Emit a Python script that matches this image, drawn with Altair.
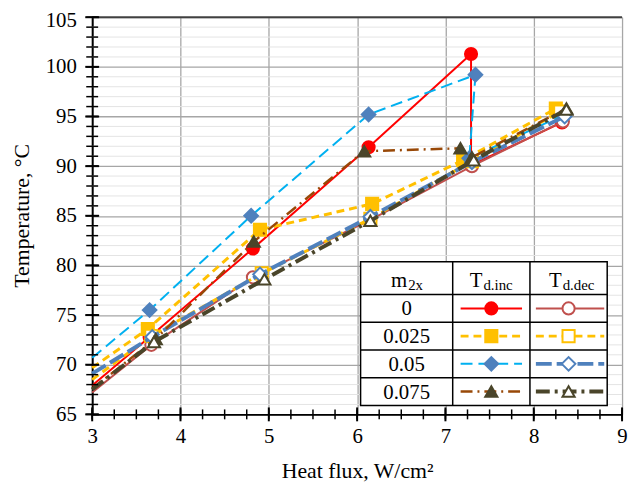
import altair as alt
import pandas as pd

FONT = "Liberation Serif"
X_MIN, X_MAX = 3, 9
Y_MIN, Y_MAX = 65, 105
W, H = 535, 401

# ---- data ----
x_0_inc = [3.0, 3.65, 4.82, 6.13, 7.29, 7.29, 8.32]
y_0_inc = [67.9, 72.8, 81.7, 91.9, 101.3, 90.1, 94.4]
x_0_dec = [3.0, 3.67, 4.82, 6.15, 7.30, 8.33]
y_0_dec = [67.2, 72.0, 78.8, 84.6, 90.0, 94.5]
x_025_inc = [3.0, 3.63, 4.90, 6.17, 7.20, 8.25]
y_025_inc = [69.7, 73.6, 83.6, 86.2, 90.6, 95.8]
x_025_dec = [3.0, 3.67, 4.92, 6.15, 7.30, 8.30]
y_025_dec = [68.5, 72.9, 79.2, 84.7, 90.5, 95.5]
x_05_inc = [3.0, 3.65, 4.80, 6.13, 7.34, 7.27, 8.35]
y_05_inc = [70.7, 75.5, 85.0, 95.2, 99.2, 90.8, 95.2]
x_05_dec = [3.0, 3.68, 4.90, 6.15, 7.30, 8.35]
y_05_dec = [69.1, 72.8, 79.1, 84.9, 90.4, 95.0]
x_075_inc = [3.0, 3.72, 4.83, 6.08, 7.17, 7.30, 8.37]
y_075_inc = [67.6, 72.6, 82.4, 91.5, 91.8, 90.9, 95.8]
x_075_dec = [3.0, 3.70, 4.95, 6.15, 7.32, 8.37]
y_075_dec = [67.5, 72.3, 78.6, 84.5, 90.6, 95.7]

m2x_labels = ["0", "0.025", "0.05", "0.075"]
x_ticks = list(range(3, 10))
y_ticks = list(range(65, 106, 5))

# ---- styles ----
series = [
    # (x, y, row, col, line color, width, dash, shape, fill, stroke)
    (x_0_inc, y_0_inc, 0, "inc", "#FF0000", 2, None, "circle", "#FF0000", "#FF0000"),
    (x_0_dec, y_0_dec, 0, "dec", "#C0504D", 2, None, "circle", "white", "#C0504D"),
    (x_025_inc, y_025_inc, 1, "inc", "#FFC000", 3, [8, 5], "square", "#FFC000", "#FFC000"),
    (x_025_dec, y_025_dec, 1, "dec", "#FFC000", 3, [8, 5], "square", "white", "#FFC000"),
    (x_05_inc, y_05_inc, 2, "inc", "#00B0F0", 2, [12, 6], "diamond", "#4F81BD", "#4F81BD"),
    (x_05_dec, y_05_dec, 2, "dec", "#4F81BD", 4, [16, 5], "diamond", "white", "#4F81BD"),
    (x_075_inc, y_075_inc, 3, "inc", "#984807", 2.5, [12, 5, 2, 5], "triangle-up", "#4A452A", "#4A452A"),
    (x_075_dec, y_075_dec, 3, "dec", "#4A452A", 4, [14, 5, 3, 5], "triangle-up", "white", "#4A452A"),
]


def px2x(p):
    return X_MIN + p / W * (X_MAX - X_MIN)


def px2y(p):
    return Y_MAX - p / H * (Y_MAX - Y_MIN)


xscale = alt.Scale(domain=[X_MIN, X_MAX], nice=False, zero=False)
yscale = alt.Scale(domain=[Y_MIN, Y_MAX], nice=False, zero=False)

x_axis = alt.Axis(values=x_ticks, grid=True, gridColor="#A6A6A6", gridWidth=1.3,
                  domainColor="black", domainWidth=2, ticks=False, tickSize=0,
                  labelFont=FONT, labelFontSize=21, labelColor="black", labelPadding=11,
                  labelFlush=False, labelOverlap=False,
                  title="Heat flux, W/cm²", titleFont=FONT, titleFontSize=22,
                  titleFontWeight="normal", titleColor="black", titleY=57,
                  titleBaseline="middle")
y_axis = alt.Axis(values=y_ticks, grid=True, gridColor="#A6A6A6", gridWidth=1.3,
                  domainColor="black", domainWidth=2, ticks=False, tickSize=0,
                  labelFont=FONT, labelFontSize=21, labelColor="black", labelPadding=16,
                  labelOffset={"condition": {"test": "datum.value == 105", "value": 3}, "value": 0},
                  labelFlush=False, labelOverlap=False,
                  title="Temperature, °C", titleFont=FONT, titleFontSize=22,
                  titleFontWeight="normal", titleColor="black", titleX=-71, titleY=200,
                  titleBaseline="middle")


def X(field="x"):
    return alt.X(f"{field}:Q", scale=xscale, axis=x_axis)


def Y(field="y"):
    return alt.Y(f"{field}:Q", scale=yscale, axis=y_axis)


layers = []

# minor horizontal gridlines
minor_y = [v for v in range(Y_MIN, Y_MAX + 1) if v % 5 != 0]
layers.append(alt.Chart(pd.DataFrame({"y": minor_y, "x": X_MIN, "x2": X_MAX})).mark_rule(color="#E4E4E4", strokeWidth=1).encode(
    y=Y(), x=X(), x2="x2"))
# top border
layers.append(alt.Chart(pd.DataFrame({"y": [Y_MAX], "x": X_MIN, "x2": X_MAX})).mark_rule(color="#404040", strokeWidth=2).encode(
    y=Y(), x=X(), x2="x2"))

# data series
for xs, ys, row, col, lc, lw, dash, shape, fill, stroke in series:
    df = pd.DataFrame({"x": xs, "y": ys, "i": list(range(len(xs)))})
    lkw = dict(color=lc, strokeWidth=lw)
    if dash:
        lkw["strokeDash"] = dash
    layers.append(alt.Chart(df).mark_line(**lkw).encode(x=X(), y=Y(), order="i:Q"))
    layers.append(alt.Chart(df).transform_filter("datum.i > 0").mark_point(
        shape=shape, filled=True, fill=fill, stroke=stroke, strokeWidth=2,
        size=150 if shape != "diamond" else 190, opacity=1).encode(x=X(), y=Y()))

# cross-style ticks
x_minor = [X_MIN + 0.25 * k for k in range(0, 25)]
y_minor = list(range(Y_MIN, Y_MAX + 1))
layers.append(alt.Chart(pd.DataFrame({"x": x_minor})).mark_rule(color="black", strokeWidth=1.5).encode(
    x=X(), y=alt.value(H - 5), y2=alt.value(H + 5)))
layers.append(alt.Chart(pd.DataFrame({"x": x_ticks})).mark_rule(color="black", strokeWidth=2).encode(
    x=X(), y=alt.value(H - 7), y2=alt.value(H + 7)))
layers.append(alt.Chart(pd.DataFrame({"y": y_minor})).mark_rule(color="black", strokeWidth=1.5).encode(
    y=Y(), x=alt.value(-6), x2=alt.value(6)))
layers.append(alt.Chart(pd.DataFrame({"y": y_ticks})).mark_rule(color="black", strokeWidth=2).encode(
    y=Y(), x=alt.value(-7), x2=alt.value(7)))

# ---- legend table (laid out in plot pixels, converted to data units) ----
t_left, t_c1, t_c2, t_right = 271, 364, 442, 520
row_edges = [247, 280, 308, 336, 364, 392]
row_mid = [(row_edges[k + 1] + row_edges[k + 2]) / 2 for k in range(4)]

tbl = pd.DataFrame({"x": [px2x(t_left)], "x2": [px2x(t_right)], "y": [px2y(row_edges[0])], "y2": [px2y(row_edges[-1])]})
layers.append(alt.Chart(tbl).mark_rect(fill="white", stroke="black", strokeWidth=1.5).encode(
    x=X(), x2="x2", y=Y(), y2="y2"))
hl = pd.DataFrame({"y": [px2y(r) for r in row_edges[1:-1]], "x": px2x(t_left), "x2": px2x(t_right)})
layers.append(alt.Chart(hl).mark_rule(color="black", strokeWidth=1.5).encode(x=X(), x2="x2", y=Y()))
vl = pd.DataFrame({"x": [px2x(t_c1), px2x(t_c2)], "y": px2y(row_edges[0]), "y2": px2y(row_edges[-1])})
layers.append(alt.Chart(vl).mark_rule(color="black", strokeWidth=1.5).encode(x=X(), y=Y(), y2="y2"))

# headers
hdr_main = pd.DataFrame({"x": [px2x(318), px2x(394), px2x(474)], "y": px2y(272), "t": ["m", "T", "T"]})
layers.append(alt.Chart(hdr_main).mark_text(font=FONT, fontSize=21, align="right", baseline="alphabetic", color="black").encode(
    x=X(), y=Y(), text="t:N"))
hdr_sub = pd.DataFrame({"x": [px2x(319), px2x(395), px2x(475)], "y": px2y(275), "t": ["2x", "d.inc", "d.dec"]})
layers.append(alt.Chart(hdr_sub).mark_text(font=FONT, fontSize=15, align="left", baseline="alphabetic", color="black").encode(
    x=X(), y=Y(), text="t:N"))
# row labels
rl = pd.DataFrame({"x": px2x((t_left + t_c1) / 2), "y": [px2y(r) for r in row_mid], "t": m2x_labels})
layers.append(alt.Chart(rl).mark_text(font=FONT, fontSize=21, align="center", baseline="middle", color="black", dy=1).encode(
    x=X(), y=Y(), text="t:N"))

# legend samples
for xs, ys, row, col, lc, lw, dash, shape, fill, stroke in series:
    if col == "inc":
        a, b, m = 372, 434, 403
    else:
        a, b, m = 448, 517, 481
    yy = px2y(row_mid[row])
    lkw = dict(color=lc, strokeWidth=lw)
    if dash:
        lkw["strokeDash"] = dash
    layers.append(alt.Chart(pd.DataFrame({"x": [px2x(a)], "x2": [px2x(b)], "y": [yy]})).mark_rule(**lkw).encode(
        x=X(), x2="x2", y=Y()))
    layers.append(alt.Chart(pd.DataFrame({"x": [px2x(m)], "y": [yy]})).mark_point(
        shape=shape, filled=True, fill=fill, stroke=stroke, strokeWidth=2,
        size=150 if shape != "diamond" else 190, opacity=1).encode(x=X(), y=Y()))

chart = alt.layer(*layers).properties(
    width=W, height=H,
    autosize=alt.AutoSizeParams(type="none"),
    padding={"left": 85, "top": 7, "right": 6, "bottom": 68},
).configure_view(stroke=None)

chart.save("out.html", embed_options={"renderer": "svg", "actions": False})
